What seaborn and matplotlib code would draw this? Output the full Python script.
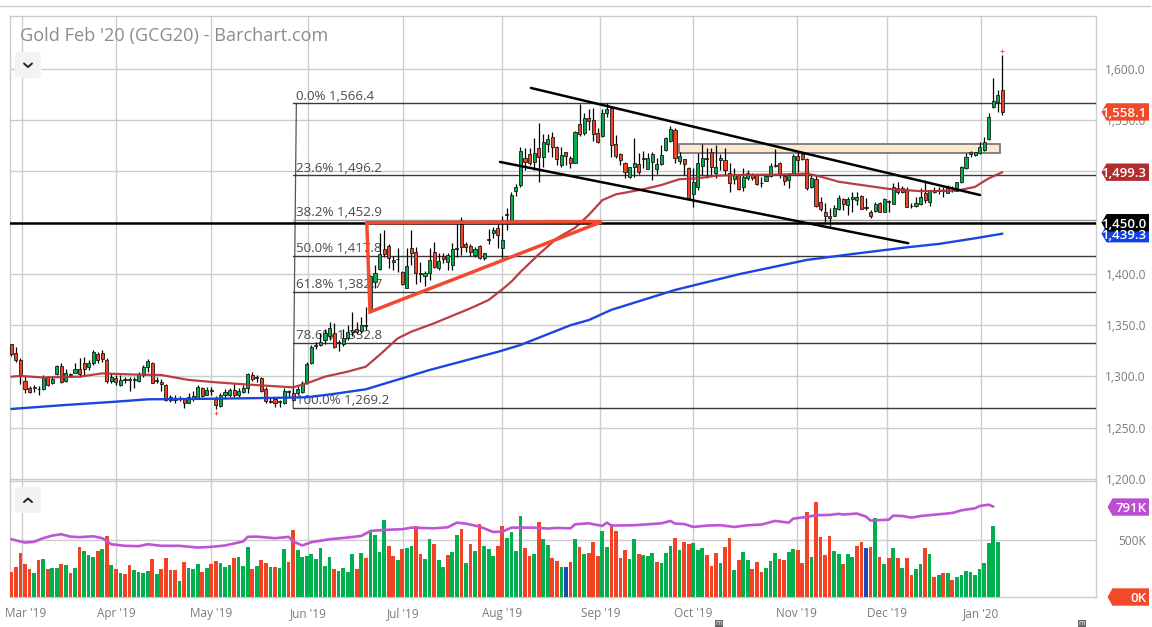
import matplotlib
matplotlib.use("Agg")
import matplotlib.pyplot as plt
from matplotlib.patches import Polygon, Rectangle, FancyBboxPatch
from matplotlib.transforms import ScaledTranslation
import seaborn as sns
import pandas as pd

# daily candles
opens = [1331.7,1322.6,1316,1295.6,1288.4,1288.4,1287.5,1287.5,1299.2,1293.3,
1302,1310,1295.9,1302.7,1303.7,1307,1312.8,1308.9,1313.5,1321.6,
1322.6,1316,1295.3,1298.2,1292,1296.9,1296.9,1296.9,1295.9,1301.4,
1308.9,1313.5,1296.6,1294.6,1291.7,1279.7,1277.4,1277.7,1277.7,1274.5,
1277.7,1278.7,1289,1282.3,1285.8,1279,1271,1282,1282,1286.8,
1282,1285,1288.4,1301,1299.5,1298.5,1287.5,1275.4,1278.4,1275,
1273.8,1284.5,1284.2,1284.2,1285,1293.3,1312.8,1329.7,1330.7,1335.6,
1339.8,1342,1332.3,1331.4,1337.2,1343,1346,1344,1350.5,1364,
1391.8,1404.5,1424,1427.6,1411.5,1414.3,1402,1386.6,1425,1421.8,
1399.6,1398.4,1400.6,1421.8,1406,1417.9,1411.4,1408.8,1424.3,1448.4,
1429,1427,1418.5,1427,1415.3,1433.2,1439.7,1444.5,1425.7,1457.6,
1452,1481.3,1486.8,1512.8,1517,1509.6,1522.6,1513.8,1526.8,1534,
1523.6,1506.3,1518.7,1512.8,1508.6,1546.3,1537.9,1552,1550,1537.2,
1535,1556.7,1561.6,1526.5,1516.7,1508,1494.3,1504.7,1507.3,1513.5,
1502,1509.6,1502,1507.3,1521,1530,1540.5,1510.6,1511.9,1503,
1477.7,1485,1505.4,1512,1518.7,1499,1510.9,1510.9,1499,1492.3,
1497,1485,1494,1497,1496.6,1488.4,1491,1495.9,1505.7,1508,
1495.3,1491.7,1498.9,1515.4,1516.7,1512,1484.5,1492.7,1469.9,1460,
1456.3,1456.6,1463.4,1472.8,1467,1472.8,1472.5,1476.4,1465.4,1460.8,
1461.5,1469,1460.8,1470.6,1468.3,1483.6,1480.3,1482,1466,1466.3,
1468.3,1479.4,1470.6,1480,1481,1481.6,1479.4,1484.2,1481.3,1490,
1503,1516.8,1516.4,1517.7,1521,1531.7,1563,1567.5,1579.5]
highs = [1332,1329,1317.7,1300,1290.7,1291.7,1290.7,1301.4,1300.5,1300.5,
1311,1312.8,1307,1303.7,1312.8,1317.7,1319.3,1316,1325.8,1324.2,
1325.8,1317.7,1303.7,1301.4,1301.4,1299.8,1299.2,1299.8,1304.7,1311,
1316.7,1314.5,1299.2,1297.2,1292.7,1282,1282,1281,1278.7,1283.6,
1286,1291.4,1290,1290,1290,1281,1283.6,1287.5,1288.4,1292.7,
1289,1291.7,1303.7,1304.7,1301.4,1299.8,1290,1279.7,1279.7,1277,
1288.4,1286.8,1288.4,1291.7,1295.6,1314.5,1330.7,1334,1342,1346,
1353.5,1352,1335.6,1346,1350,1362.6,1353,1358,1368,1399,
1408.8,1439.7,1442.9,1429,1417.9,1425,1402.9,1425,1442.9,1426.6,
1411.4,1403,1425,1430.9,1420,1420,1420,1430,1449.4,1456,
1430.9,1429,1426.6,1428.3,1420.8,1443.9,1446,1449.4,1457,1464,
1480,1487.8,1523.6,1522.6,1522.6,1533,1547,1537,1537,1539,
1524.9,1524.2,1519.3,1515,1539.8,1565.8,1556.7,1560.6,1561.6,1542,
1560.6,1567,1564,1535.6,1517.7,1509.6,1504.7,1532.3,1517.7,1520.3,
1517.7,1519.3,1512.8,1525.8,1534,1544.4,1542,1519.3,1511.9,1504,
1503,1517.7,1526.5,1522.6,1522.6,1525.8,1516.7,1522.6,1508,1503,
1498,1503,1501.5,1499,1498,1495,1497,1508,1522,1509.6,
1498,1499,1516.7,1519.3,1519.3,1512.8,1498,1497,1475.4,1469,
1464,1467,1477,1473.8,1475.4,1480.3,1479.7,1477,1473.8,1462.4,
1470.5,1470.5,1474.5,1472,1489,1490,1486,1485,1469,1475.4,
1483.6,1491.7,1482,1485.2,1485.2,1484.6,1486.5,1485.9,1490,1505.4,
1518.4,1520,1519.4,1529,1534,1556.8,1590.9,1579.5,1613.7]
lows = [1320,1314.5,1293,1284,1283.6,1285,1282,1287,1290.7,1292.7,
1301.4,1294,1295,1299,1303,1299,1301.4,1306.3,1311.2,1312.8,
1314.5,1294,1293.3,1291.7,1290.7,1293.3,1286,1288.4,1295,1299,
1304.7,1293.3,1293.3,1286,1276,1275.4,1273.8,1276.4,1269,1273.8,
1276.4,1277.7,1280.3,1281.6,1282,1268,1270.5,1278.7,1280.3,1280.3,
1280.3,1283.6,1284,1296,1295,1285,1274.5,1273.8,1270,1270,
1273,1279.7,1276.4,1282,1284,1292.7,1312,1326.5,1329.7,1331.7,
1335.6,1327.5,1325,1329.7,1335.6,1339,1341,1342,1345,1364,
1386.6,1404,1417,1405.5,1404,1402,1389,1386,1408.8,1390,
1391.8,1388.6,1394,1405.5,1404,1410.4,1404,1404,1417,1418.5,
1421.8,1417.9,1417,1414.6,1413.6,1428.9,1434.8,1425,1415,1442.9,
1451,1476,1485,1501,1506.3,1501.5,1490,1504.7,1519.3,1514.5,
1506.3,1504,1506.3,1503,1508,1534.6,1535.6,1540.5,1530,1527.5,
1534,1553.5,1514.5,1512.8,1506,1493.3,1493.3,1494.3,1498,1503,
1502,1492,1498,1506,1520,1529,1508,1507.3,1496.6,1473,
1465.7,1482,1496.6,1494,1496,1493.3,1501.5,1496.6,1480.3,1487.5,
1482,1481,1491.7,1491.7,1486.8,1485,1490.7,1495,1504.7,1493.3,
1486.8,1484,1498,1499.8,1511,1482,1484,1465.7,1461.5,1451,
1447,1456.6,1462.4,1462.4,1457.6,1460.8,1467.3,1463.4,1462.4,1455,
1460,1460.8,1460.8,1460,1468,1477.7,1478.7,1465,1464,1465.7,
1467,1469.6,1466.7,1478.7,1478,1475.5,1478.7,1480.3,1481.3,1489,
1502,1513.8,1515,1517,1520.3,1530.7,1562.3,1558.4,1555]
closes = [1321.6,1316,1300.5,1287.8,1285,1289.7,1288,1299.8,1291.4,1298,
1310,1294.6,1303,1301.4,1307,1302,1307.6,1312.8,1323.9,1316,
1317.4,1295.9,1299.2,1295,1296.6,1297.5,1297.5,1297.5,1302,1308.9,
1314.8,1294,1295.9,1292.7,1277,1277,1278,1278.4,1273.8,1279.7,
1281,1289.4,1281,1286.8,1286.5,1272,1281.6,1284.5,1286.8,1282,
1285.8,1288.8,1302.4,1297.2,1298.8,1286,1276,1276,1273.8,1275.8,
1286,1285.5,1277,1287.5,1294,1312,1328.4,1330.7,1334,1342.7,
1347,1329,1333.6,1337.2,1343.7,1345,1343,1350,1349,1398,
1400.6,1419,1419,1416,1413.6,1414.8,1390,1408,1420.8,1400.6,
1400.6,1401,1413.6,1407,1412.7,1414.3,1418.5,1424,1425,1426.6,
1426.6,1421.8,1424,1415.3,1420,1433.8,1442.6,1438,1433,1458.2,
1476.7,1484.5,1520,1509.6,1508.6,1517.7,1513.8,1528.4,1531.4,1524,
1511.9,1515.8,1515.4,1508.6,1538.5,1536.6,1551.9,1549.6,1537,1528.4,
1556.7,1560.6,1525.8,1515,1511,1499.8,1504.7,1508,1499.8,1511.9,
1513.5,1517,1507.3,1516,1532.3,1541,1512.8,1515.4,1507.3,1473.8,
1490,1508,1513.5,1513.5,1504.7,1504,1512.8,1501.5,1489,1498,
1482.9,1495,1499,1494,1487.8,1489,1495.9,1505.4,1506.3,1496.6,
1491,1497,1514.8,1511,1511.9,1483.6,1493.3,1466.7,1463,1457,
1454.3,1464,1474.5,1468.6,1473,1475,1475,1463.7,1464.8,1456.6,
1468,1460.8,1473.2,1471.2,1484.5,1480.3,1483.6,1465.7,1466.6,1469,
1475.5,1472.2,1482,1480.8,1481.6,1481,1484.6,1483.6,1489.4,1504.7,
1514.5,1519,1518.7,1523.6,1528.5,1552.9,1569,1574.3,1558.1]

# daily volume in thousands, with the colour of each bar
volume = [222,266,388,292,248,213,327,336,248,257,
257,292,283,213,257,441,406,371,353,406,
423,537,283,248,213,204,283,239,222,213,
231,336,204,248,345,239,239,143,310,257,
248,292,222,257,292,318,301,266,283,345,
353,274,441,248,274,327,301,266,266,257,
423,310,590,415,353,362,380,336,432,274,
353,248,231,257,222,380,248,388,345,572,
546,397,677,450,362,327,423,432,450,625,
380,336,511,467,327,266,371,397,546,599,
301,467,406,642,450,423,362,450,625,520,
572,406,712,432,362,380,660,511,458,345,
318,266,266,310,511,441,380,388,485,362,
581,441,642,581,345,415,336,511,380,371,
362,388,310,301,388,450,520,415,485,467,
476,415,432,371,274,388,301,441,520,239,
327,397,327,248,310,222,257,318,388,336,
327,397,423,415,301,748,353,835,529,371,
537,406,380,292,380,353,450,485,432,441,
695,353,292,345,432,345,257,345,196,248,
292,432,380,178,196,213,213,152,178,196,
231,222,196,248,301,476,625,485]
vol_colors = list("rrrrrgrgrg" "grgrgrgggr" "grgrgrrggg" "grgrrrrgrg" "ggrgrrgggr"
                  "gggrgrrgrg" "grrggggggg" "grggggrgrg" "gggrrgrggr" "rggrggrggr"
                  "grgrgggrrg" "gggrrgrggr" "rgbrgrgrrr" "ggrrrrggrg" "ggrgggrgrr"
                  "gggrrrgrrg" "rggrrrgggr" "rggrrrgrrr" "rggrggrrbr" "grgrgrgrrg"
                  "grgrgrgrgg" "gggggggg")

# moving averages: (day index, value)
ma50_x = [0,2,7,15,20,26,33,39,45,50,56,62,65,69,74,78,81,85,88,93,96,101,105,108,110,112,116,120,124,127,130,133,139,143,147,151,155,160,169,175,178,182,187,193,200,208,212,215,218]
ma50 = [1299.8,1300.5,1299,1299.8,1303,1302,1301.4,1296.6,1294.3,1292.7,1291,1289.4,1293.3,1299.8,1304.7,1309.6,1321,1337.2,1343.7,1351.9,1357.4,1366.5,1374.6,1385,1392.5,1402,1419,1434.8,1445,1457.5,1472,1477.7,1482.6,1486.8,1492.5,1493.3,1495.9,1496.6,1497,1497.9,1495,1490,1486.8,1483,1480.8,1481.3,1485,1493.3,1499.3]
ma200_x = [0,12,23,30,45,56,65,71,78,92,107,112,123,127,132,146,160,175,186,197,204,212,218]
ma200 = [1268.3,1272.2,1275.4,1277.7,1278.3,1279,1279.7,1283,1287.5,1306.3,1324,1330.7,1350,1355,1365,1384.4,1399.7,1413.7,1420,1426,1429.3,1434.8,1439.3]
volma_x = [0,2,3,5,7,9,11,13,15,18,20,22,25,28,30,33,37,41,44,47,51,52,54,58,61,62,64,66,70,74,77,79,82,86,88,93,96,98,100,103,106,108,110,115,118,120,123,124,127,130,131,132,137,140,143,145,146,148,150,153,156,159,162,165,168,171,172,175,177,180,182,183,186,188,189,193,194,196,198,200,205,207,209,212,213,215,216]
volma = [508,488,479,485,517,540,552,531,526,534,517,464,450,447,464,450,450,435,441,453,488,529,531,517,529,488,453,482,508,523,537,581,590,596,610,604,613,654,645,619,572,575,610,610,602,607,604,639,648,625,654,628,631,639,648,669,645,642,616,628,631,616,631,637,669,654,689,704,719,722,731,725,734,707,672,680,715,712,698,712,731,739,762,780,800,812,795]

# fibonacci levels, labels, axis stuff
fib_levels = [1566.4, 1496.2, 1452.9, 1417.8, 1382.7, 1332.8, 1269.2]
fib_labels = ["0.0% 1,566.4", "23.6% 1,496.2", "38.2% 1,452.9", "50.0% 1,417.8", "61.8% 1,382.7", "78.6% 1,332.8", "100.0% 1,269.2"]
month_pos = [2.27, 23, 44, 65.3, 86.2, 107.9, 129.6, 150, 172.8, 192.6, 213.3]
month_labels = ["Mar '19", "Apr '19", "May '19", "Jun '19", "Jul '19", "Aug '19", "Sep '19", "Oct '19", "Nov '19", "Dec '19", "Jan '20"]
price_ticks = [1200, 1250, 1300, 1350, 1400, 1450, 1500, 1550, 1600]
hidden_ticks = [1450, 1500]  # sit fully under the price tags

# hand drawn lines on the chart: x in day index, y in price
upper_x, upper_y = [114.3, 213.1], [1581.5, 1477]
lower_x, lower_y = [107.5, 197.3], [1509.3, 1430]
tri_x, tri_y = [78.2, 129.9, 78.9, 78.2], [1450, 1451, 1363, 1450]
box_x, box_y = [146.8, 217.5], [1518.3, 1526.8]

GREEN = "#00B04F"
RED = "#F24324"
BLUE = "#2046B8"
GRID = "#CCCCCC"
TICK = "#7A7A7A"

assert len(opens) == len(highs) == len(lows) == len(closes) == 219
assert len(volume) == len(vol_colors) == 218

sns.set_theme(style="white")
plt.rcParams["font.family"] = ["Open Sans", "DejaVu Sans"]

W, H = 1152, 627
fig = plt.figure(figsize=(W / 100, H / 100), dpi=100, facecolor="white")


def panel(top, bottom):
    return fig.add_axes([9.5 / W, 1 - bottom / H, (1096 - 9.5) / W, (bottom - top) / H])


ax = panel(16, 481)
vax = panel(481, 597)
XLIM = (-0.4, 238.6)

# volume
vol_df = pd.DataFrame({"day": range(len(volume)), "volume": volume, "color": vol_colors})
sns.barplot(data=vol_df, x="day", y="volume", hue="color", native_scale=True, dodge=False,
            palette={"r": RED, "g": GREEN, "b": BLUE}, saturation=1, linewidth=0,
            legend=False, ax=vax, zorder=3)
for p in vax.patches:
    mid = p.get_x() + p.get_width() / 2
    p.set_width(0.82)
    p.set_x(mid - 0.41)
sns.lineplot(x=volma_x, y=volma, color="#C054D6", lw=1.9, ax=vax, zorder=4)
vax.set_ylim(0, 1020)
vax.set_xlim(*XLIM)
vax.set_xlabel("")
vax.set_ylabel("")
vax.set_xticks(month_pos)
vax.set_xticklabels(month_labels, color=TICK, fontsize=8.5)
vax.set_yticks([500])
vax.set_yticklabels(["500K"], color=TICK, fontsize=8.6)
vax.yaxis.tick_right()

# candles
up = [c >= o for o, c in zip(opens, closes)]
days = list(range(len(opens)))
tops = [max(o, c) for o, c in zip(opens, closes)]
bots = [min(o, c) for o, c in zip(opens, closes)]
ax.vlines(days, lows, highs, color="black", lw=0.9, zorder=4)
ax.bar(days, [t - b for t, b in zip(tops, bots)], bottom=bots, width=0.68,
       color=[GREEN if u else RED for u in up], edgecolor="#1a1a1a", lw=0.6, zorder=5)
ax.plot([45, 218], [1264.5, 1617.6], ls="none", marker="+", ms=2.5, mew=0.6, color=RED, zorder=5)

# moving averages
sns.lineplot(x=ma50_x, y=ma50, color="#B5343A", lw=1.6, ax=ax, zorder=6, alpha=0.95)
sns.lineplot(x=ma200_x, y=ma200, color="#1A46E0", lw=1.7, ax=ax, zorder=6)

# fib retracement
ax.plot([62, 62.7], [fib_levels[-1], fib_levels[0]], color="#555555", lw=0.9, zorder=3)
for lev, lab in zip(fib_levels, fib_labels):
    c = "#9A9A9A" if lev == 1452.9 else "#3A3A3A"
    ax.plot([62, XLIM[1]], [lev, lev], color=c, lw=1.0, zorder=3)
    ax.annotate(lab, (62.6, lev), xytext=(0, 0.5), textcoords="offset points", va="bottom",
                color="#4A4A4A", fontsize=9.6, zorder=3)

# drawn objects
ax.axhline(1450, color="black", lw=1.8, zorder=6)
ax.add_patch(Rectangle((box_x[0], box_y[0]), box_x[1] - box_x[0], box_y[1] - box_y[0],
                       facecolor="#FDE8CF", edgecolor="#7A7A7A", lw=1.3, zorder=3))
ax.plot(upper_x, upper_y, color="black", lw=1.8, zorder=7)
ax.plot(lower_x, lower_y, color="black", lw=1.8, zorder=7)
ax.plot(tri_x, tri_y, color="#F2492F", lw=2.5, zorder=8, solid_joinstyle="miter")

ax.set_xlim(*XLIM)
ax.set_ylim(1198, 1651.7)
ax.set_xticks(month_pos)
ax.tick_params(axis="x", labelbottom=False, length=0)
ax.set_yticks(price_ticks)
ax.set_yticklabels(["" if p in hidden_ticks else f"{p:,.1f}" for p in price_ticks], color=TICK, fontsize=8.6)
ax.yaxis.tick_right()

for a in (ax, vax):
    a.set_axisbelow(True)
    a.grid(True, color=GRID, lw=1.0)
    for s in a.spines.values():
        s.set_color(GRID)
        s.set_linewidth(1.0)
    for t in a.get_yticklabels():
        t.set_ha("right")
    a.tick_params(axis="y", length=0, pad=36)
vax.tick_params(axis="x", length=0, pad=7)
first = vax.get_xticklabels()[0]
first.set_transform(first.get_transform() + ScaledTranslation(3.5 / 100, 0, fig.dpi_scale_trans))

# overlay in pixel coordinates for the page furniture
ov = fig.add_axes([0, 0, 1, 1], zorder=10)
ov.set_xlim(0, W)
ov.set_ylim(H, 0)
ov.axis("off")
ov.plot([0, 1150], [6, 6], color=GRID, lw=1.0)
ov.text(20, 36, "Gold Feb '20 (GCG20) - Barchart.com", color="#8C8C8C", fontsize=13.1, va="center", ha="left")

for y0 in (52, 487):
    ov.add_patch(FancyBboxPatch((18, y0 + 3), 20, 20, boxstyle="round,pad=3,rounding_size=4",
                                facecolor="#F3F1F3", edgecolor="none"))
ov.plot([24, 28, 32], [63.5, 67, 63.5], color="#222222", lw=1.4)
ov.plot([24, 28, 32], [502, 498.5, 502], color="#222222", lw=1.4)


def tag(y, text, color, x0=1101.5):
    x1, hh = 1149, 8.7
    ov.add_patch(Polygon([(x0, y), (x0 + 5, y - hh), (x1, y - hh), (x1, y + hh), (x0 + 5, y + hh)],
                         closed=True, facecolor=color, edgecolor="none"))
    ov.text(1146.5, y, text, color="white", fontsize=9.5, fontweight="semibold", ha="right", va="center_baseline")


def price_y(p):
    return H - ax.transData.transform((0, p))[1]


def vol_y(v):
    return H - vax.transData.transform((0, v))[1]


tag(price_y(1439.3), "1,439.3", "#1141E6")
tag(price_y(1450.0), "1,450.0", "black")
tag(price_y(1499.3), "1,499.3", "#B22D30")
tag(price_y(1558.1), "1,558.1", "#F2492B")
tag(vol_y(791), "791K", "#BA4FD0", x0=1107.5)
tag(vol_y(0), "0K", "#F2492B", x0=1107.5)

# small m markers under the axis
for mx in (719, 1082):
    ov.add_patch(Rectangle((mx - 4, 620), 8, 7, facecolor="#666666", edgecolor="none"))
    ov.text(mx, 623.8, "m", color="white", fontsize=5, ha="center", va="center")

fig.savefig("out.png", dpi=100, facecolor="white")
